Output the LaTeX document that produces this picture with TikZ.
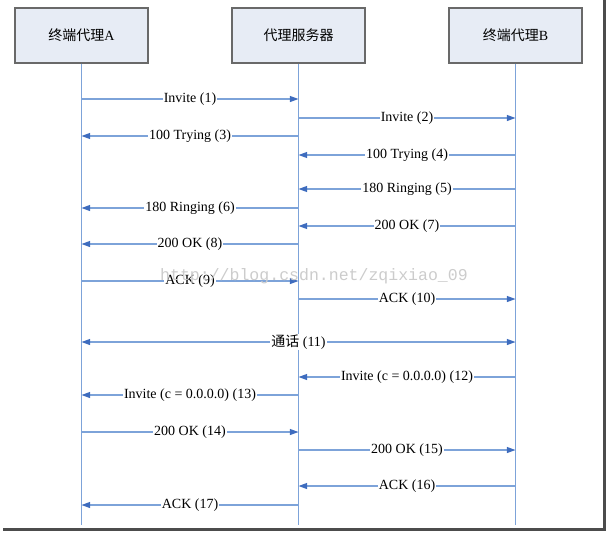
\documentclass[tikz,border=0pt]{standalone}
\usepackage{fontspec}
\setmainfont{Liberation Serif}
\newfontfamily\cjk{Noto Sans CJK SC}
\newfontfamily\wmfont{Liberation Mono}
\usepackage{xcolor}
\usepackage{tikz}
\usetikzlibrary{positioning,arrows.meta}
\definecolor{lineBlue}{RGB}{125,163,217}
\definecolor{tipBlue}{RGB}{62,108,190}
\definecolor{boxFill}{RGB}{231,236,245}
\definecolor{boxDraw}{RGB}{105,105,105}
\newcommand{\msgfont}{\fontsize{10.5}{12}\selectfont}
\tikzset{
    actor/.style={rectangle, draw=boxDraw, fill=boxFill, line width=1.1pt, minimum width=99.75pt, minimum height=41.25pt, inner sep=0pt, font=\msgfont},
    life/.style={draw=lineBlue, line width=0.9pt},
    msg/.style={draw=lineBlue, line width=0.9pt, ->, >={Triangle[length=6.5pt,width=4.5pt,color=tipBlue]}},
    msglabel/.style={fill=white, inner sep=0.8pt, font=\msgfont}
}

\begin{document}
\begin{tikzpicture}[
        x=0.75pt, y=-0.75pt,
        % Style cho khung anh chup
        frame/.style={draw=black!70, line width=2.2pt},
        % Style cho chu chim
        watermark/.style={text=black!20, font=\wmfont\fontsize{12.4}{14}\selectfont, inner sep=0pt}
    ]
        \useasboundingbox (0,0) rectangle (609,533);

        % --- CAC THUC THE ---
        \node[actor] (agentA) at (81.5,35.5) {{\cjk 终端代理}A};
        \node[actor, right=61.9pt of agentA] (proxy) {\cjk 代理服务器};
        \node[actor, right=61.9pt of proxy] (agentB) {{\cjk 终端代理}B};

        % --- DUONG SONG ---
        \foreach \who in {agentA, proxy, agentB} {
            \draw[life] (\who.south) -- (\who.south |- 0,525);
        }

        % --- CAC THONG DIEP ---
        \foreach \y/\src/\dst/\txt in {
            99/agentA/proxy/{Invite (1)},
            118/proxy/agentB/{Invite (2)},
            136/proxy/agentA/{100 Trying (3)},
            155/agentB/proxy/{100 Trying (4)},
            189/agentB/proxy/{180 Ringing (5)},
            208/proxy/agentA/{180 Ringing (6)},
            226/agentB/proxy/{200 OK (7)},
            244/proxy/agentA/{200 OK (8)},
            281/agentA/proxy/{ACK (9)},
            299/proxy/agentB/{ACK (10)},
            377/agentB/proxy/{Invite (c = 0.0.0.0) (12)},
            395/proxy/agentA/{Invite (c = 0.0.0.0) (13)},
            432/agentA/proxy/{200 OK (14)},
            450/proxy/agentB/{200 OK (15)},
            486/agentB/proxy/{ACK (16)},
            505/proxy/agentA/{ACK (17)}} {
            \draw[msg] (\src |- 0,\y) -- node[msglabel] {\txt} (\dst |- 0,\y);
        }

        % cuoc goi hai chieu
        \draw[msg, <->] (agentA |- 0,342) -- node[msglabel] {{\cjk 通话} (11)} (agentB |- 0,342);

        % --- CHU CHIM ---
        \node[watermark] (wm) at (314,276) {http://blog.csdn.net/zqixiao\_09};

        % --- KHUNG ---
        \draw[frame] (604.5,0) -- (604.5,529.5) -- (3,529.5);

    \end{tikzpicture}
\end{document}
